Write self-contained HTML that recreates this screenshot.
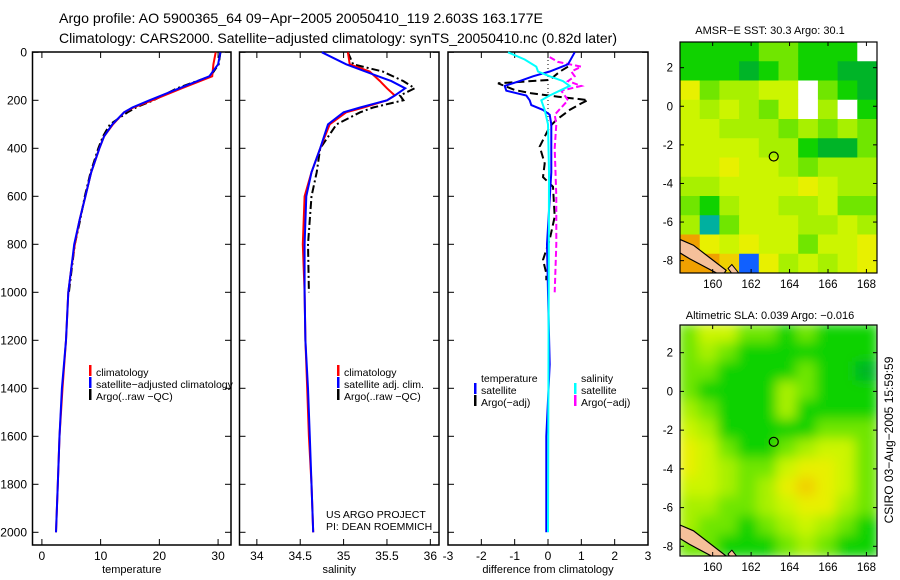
<!DOCTYPE html>
<html><head><meta charset="utf-8"><style>
html,body{margin:0;padding:0;background:#fff;}
svg{display:block;font-family:"Liberation Sans",sans-serif;}
</style></head><body>
<svg id="fig" width="900" height="580" viewBox="0 0 900 580" xmlns="http://www.w3.org/2000/svg">
<text x="59" y="23" font-size="14" textLength="484" lengthAdjust="spacingAndGlyphs">Argo profile: AO 5900365_64 09−Apr−2005 20050410_119 2.603S 163.177E</text>
<text x="59" y="43" font-size="14" textLength="558" lengthAdjust="spacingAndGlyphs">Climatology: CARS2000. Satellite−adjusted climatology: synTS_20050410.nc (0.82d later)</text>
<g id="plots"></g>
<text x="770" y="34" font-size="11" text-anchor="middle">AMSR−E SST: 30.3 Argo: 30.1</text>
<text x="770" y="319" font-size="11" text-anchor="middle">Altimetric SLA: 0.039 Argo: −0.016</text>
<text transform="translate(893,440) rotate(-90)" font-size="12" text-anchor="middle">CSIRO 03−Aug−2005 15:59:59</text>
</svg>
<script>
// ---- profile data ----
const depthsT = [0,50,100,150,200,230,250,300,350,400,500,600,700,800,900,1000,1200,1400,1600,1800,2000];
const tempSat = [30.4,30.0,28.5,23.4,18.3,15.4,14.0,12.0,10.6,9.8,8.4,7.4,6.4,5.5,5.0,4.5,4.1,3.4,3.0,2.7,2.4];
const tempClim = [29.6,29.2,29.0,23.8,18.8,15.6,14.0,12.1,10.6,9.8,8.4,7.4,6.4,5.6,5.0,4.5,4.1,3.5,3.0,2.7,2.4];
const depthsArgo = [0,50,100,150,200,230,250,300,350,400,500,600,700,800,900,1000];
const tempArgo = [30.4,30.1,28.7,23.0,19.0,16.0,14.6,11.6,10.4,9.6,8.3,7.3,6.5,5.6,5.1,4.6];
const depthsS = [0,50,80,120,150,180,200,230,250,300,400,500,600,800,1000,1200,1400,1600,1800,2000];
const salSat = [34.75,35.03,35.25,35.55,35.71,35.59,35.5,35.19,35.0,34.82,34.73,34.63,34.57,34.55,34.55,34.56,34.59,34.61,34.63,34.65];
const salClim = [35.05,35.07,35.3,35.42,35.5,35.59,35.5,35.23,35.03,34.84,34.73,34.63,34.55,34.53,34.55,34.56,34.58,34.6,34.63,34.65];
const depthsSArgo = [0,50,80,120,150,180,200,230,250,300,400,500,600,800,1000];
const salArgo = [35.05,35.11,35.45,35.69,35.82,35.65,35.69,35.34,35.19,34.92,34.73,34.69,34.63,34.59,34.6];
const depthsDTs = [0,50,80,100,120,140,160,180,200,220,240,260,300,500,800,1000,1300,1600,2000];
const diffTSat = [0.8,0.6,0.05,-0.45,-0.85,-1.3,-1.25,-0.65,-0.55,-0.5,-0.15,0.05,0.1,0.1,-0.03,0,0.05,-0.05,-0.05];
const depthsDSs = [0,30,60,80,100,120,140,160,180,200,240,300,500,1000,2000];
const diffSSat = [-1.2,-0.7,-0.35,-0.3,0.05,0.45,0.65,0.35,0.05,-0.2,-0.1,0,0.03,0.02,0];
const depthsDTa = [60,81,115,129,157,171,185,199,213,240,282,310,393,463,520,560,685,780,865,921,950];
const diffTArgo = [0.6,0.35,0.05,-1.5,-1.0,-0.5,0.3,1.2,1.0,0.65,0.25,0.05,-0.25,-0.1,-0.15,0.15,0.2,0.05,-0.15,-0.05,-0.05];
const depthsDSa = [20,40,60,80,100,120,140,160,180,200,230,260,300,400,600,800,1000];
const diffSArgo = [0.05,0.3,1.0,0.7,0.8,0.6,1.0,0.4,0.5,0.6,0.4,0.2,0.25,0.2,0.25,0.25,0.2];
const depthTicks = [0,200,400,600,800,1000,1200,1400,1600,1800,2000];
const tempTicks = [0,10,20,30];
const salTicks = [34,34.5,35,35.5,36];
const diffTicks = [-3,-2,-1,0,1,2,3];
// ---- map data (palette indices, rows top->bottom, 1-degree cells) ----
const sstRows = [
[2,2,2,2,3,3,2,2,2,0],[2,2,2,1,2,3,2,2,1,1],[6,3,4,4,5,5,0,3,2,1],[5,4,5,4,3,5,0,4,0,2],
[5,5,4,4,4,3,4,3,4,3],[5,5,5,5,4,4,2,1,1,3],[5,5,6,5,5,4,3,4,4,4],[4,4,5,5,5,5,6,5,4,4],
[3,2,4,5,5,4,4,5,3,3],[4,9,3,5,5,5,4,4,5,4],[8,6,5,6,5,5,3,5,5,6],[8,8,7,10,6,4,5,4,5,6]];
const slaRows = [
[3,5,5,3,3,2,3,2,2,2],[3,4,3,2,2,2,2,2,2,2],[3,3,2,2,2,2,3,2,2,1],[3,2,2,2,2,4,3,2,2,2],
[4,3,2,2,2,4,2,2,2,2],[5,4,2,2,2,2,2,3,3,3],[6,5,3,2,2,3,4,5,5,3],[6,5,4,3,3,5,6,6,5,3],
[5,5,4,3,4,6,7,6,5,3],[4,4,3,3,4,5,6,6,4,3],[4,3,3,2,3,4,5,4,3,2],[3,3,2,2,2,3,4,3,2,2]];
const palette = ['#ffffff','#00b428','#10d200','#70e600','#a8f000','#ccf500','#e8f000','#f0d000','#f0a000','#00b0a0','#1060ff'];
const lonTicks = [160,162,164,166,168];
const latTicks = [2,0,-2,-4,-6,-8];
const floatLon = [163.177];
const floatLat = [-2.603];

const NS='http://www.w3.org/2000/svg';
const root=document.getElementById('plots');
function mk(tag,attrs,parent){const e=document.createElementNS(NS,tag);for(const k in attrs)e.setAttribute(k,attrs[k]);(parent||root).appendChild(e);return e;}
const Y0=52.3, YS=0.24;
function yD(d){return Y0+d*YS;}
function panel(x0,x1,xmin,xmax,xticks,label,name,tickLbl){
  const sx=v=>x0+(v-xmin)/(xmax-xmin)*(x1-x0);
  const g=mk('g',{});
  
  
  const fr=mk('rect',{x:x0,y:52,width:x1-x0,height:493,fill:'none',stroke:'#000','stroke-width':1.5},g);
  
  
  depthTicks.forEach(d=>{
    const y=yD(d);
    mk('line',{x1:x0,x2:x0+6,y1:y,y2:y,stroke:'#000'},g);
    mk('line',{x1:x1-6,x2:x1,y1:y,y2:y,stroke:'#000'},g);
    if(tickLbl){const t=mk('text',{x:27,y:y+4,'font-size':12,'text-anchor':'end'},g);t.textContent=d;
      
      }
  });
  xticks.forEach((v,i)=>{
    const x=sx(v);
    mk('line',{x1:x,x2:x,y1:52,y2:58,stroke:'#000'},g);
    mk('line',{x1:x,x2:x,y1:539,y2:545,stroke:'#000'},g);
    const t=mk('text',{x:x,y:560,'font-size':12,'text-anchor':'middle'},g);t.textContent=v;
    
    
  });
  const l=mk('text',{x:(x0+x1)/2,y:573,'font-size':11,'text-anchor':'middle'},g);l.textContent=label;
  
  
  return {sx,g};
}
function line(p,depths,vals,color,dash,nm,w){
  const pts=depths.map((d,i)=>p.sx(vals[i]).toFixed(1)+','+yD(d).toFixed(1)).join(' ');
  const e=mk('polyline',{points:pts,fill:'none',stroke:color,'stroke-width':w||2,'stroke-dasharray':dash||'none'},p.g);
  
  
}
function legend(g,x,y,items){
  items.forEach((it,i)=>{
    if(it.c){mk('rect',{x:x-7,y:y+i*12-7,width:2.5,height:11,fill:it.c},g);}
    const t=mk('text',{x:x,y:y+i*12+4,'font-size':10.5},g);t.textContent=it.t;
    
    
  });
}
const DASH='8,3,2,3';
const p1=panel(32.5,231,-1.6,32.2,tempTicks,'temperature','temperature-panel',true);
line(p1,depthsArgo,tempArgo,'#000',DASH,'temp-argo-line');
line(p1,depthsT,tempClim,'#f00',null,'temp-climatology-line');
line(p1,depthsT,tempSat,'#00f',null,'temp-satellite-line');
legend(p1.g,96,372,[{c:'#f00',t:'climatology'},{c:'#00f',t:'satellite−adjusted climatology'},{c:'#000',t:'Argo(..raw −QC)'}]);

const p2=panel(239.5,439,33.8,36.1,salTicks,'salinity','salinity-panel',false);
line(p2,depthsSArgo,salArgo,'#000',DASH,'sal-argo-line');
line(p2,depthsS,salClim,'#f00',null,'sal-climatology-line');
line(p2,depthsS,salSat,'#00f',null,'sal-satellite-line');
legend(p2.g,344,372,[{c:'#f00',t:'climatology'},{c:'#00f',t:'satellite adj. clim.'},{c:'#000',t:'Argo(..raw −QC)'}]);
legend(p2.g,326,514,[{t:'US ARGO PROJECT'},{t:'PI: DEAN ROEMMICH'}]);

const p3=panel(448,648,-3,3,diffTicks,'difference from climatology','difference-panel',false);
mk('line',{x1:p3.sx(0),x2:p3.sx(0),y1:52,y2:130,stroke:'#000','stroke-dasharray':'1,3'},p3.g);
line(p3,depthsDTa,diffTArgo,'#000','8,4','temp-argo-diff-line');
line(p3,depthsDSa,diffSArgo,'#f0f','6,3','sal-argo-diff-line');
line(p3,depthsDTs,diffTSat,'#00f',null,'temp-satellite-diff-line');
line(p3,depthsDSs,diffSSat,'#0ff',null,'sal-satellite-diff-line');
legend(p3.g,481,378,[{t:'temperature'},{c:'#00f',t:'satellite'},{c:'#000',t:'Argo(−adj)'}]);
legend(p3.g,581,378,[{t:'salinity'},{c:'#0ff',t:'satellite'},{c:'#f0f',t:'Argo(−adj)'}]);

// ---- maps ----
function map(rows,y0,y1,latTop,latBot,name,blur){
  const x0=680,x1=877,lonL=158.3,lonR=168.55;
  const sx=v=>x0+(v-lonL)/(lonR-lonL)*(x1-x0);
  const sy=v=>y0+(latTop-v)/(latTop-latBot)*(y1-y0);
  const g=mk('g',{});
  
  
  const cid=name+'-clip';
  const cp=mk('clipPath',{id:cid},g);mk('rect',{x:x0,y:y0,width:x1-x0,height:y1-y0},cp);
  const cg=mk('g',{'clip-path':'url(#'+cid+')'},g);
  const inner=mk('g',blur?{filter:'url(#blurf)'}:{},cg);
  const nr=rows.length,nc=rows[0].length;
  const cw=(x1-x0)/nc,ch=(y1-y0)/nr;
  rows.forEach((r,i)=>r.forEach((v,j)=>{
    const c=mk('rect',{x:x0+j*cw-(blur?2:0),y:y0+i*ch-(blur?2:0),width:cw+(blur?4:0.5),height:ch+(blur?4:0.5),fill:palette[v]},inner);
    
    
  }));
  const land=[[158.3,-6.9],[159.0,-7.2],[160.7,-8.5],[160.5,-8.8],[158.8,-7.9],[158.3,-7.6]].map(p=>sx(p[0])+','+sy(p[1])).join(' ');
  const lp=mk('polygon',{points:land,fill:'#f5c09a',stroke:'#000','stroke-width':1.2},cg);
  
  
  const lp2=mk('polygon',{points:[[161.0,-8.2],[161.4,-8.7],[161.1,-8.8],[160.8,-8.4]].map(p=>sx(p[0])+','+sy(p[1])).join(' '),fill:'#f5c09a',stroke:'#000','stroke-width':1},cg);
  
  
  mk('rect',{x:x0,y:y0,width:x1-x0,height:y1-y0,fill:'none',stroke:'#000','stroke-width':1.2},g);
  lonTicks.forEach(v=>{const x=sx(v);
    mk('line',{x1:x,x2:x,y1:y0,y2:y0+4,stroke:'#000'},g);
    mk('line',{x1:x,x2:x,y1:y1-4,y2:y1,stroke:'#000'},g);
    const t=mk('text',{x:x,y:y1+15,'font-size':11.5,'text-anchor':'middle'},g);t.textContent=v;
    
    });
  latTicks.forEach(v=>{const y=sy(v);
    mk('line',{x1:x0,x2:x0+4,y1:y,y2:y,stroke:'#000'},g);
    mk('line',{x1:x1-4,x2:x1,y1:y,y2:y,stroke:'#000'},g);
    const t=mk('text',{x:673,y:y+4,'font-size':11.5,'text-anchor':'end'},g);t.textContent=v;
    
    });
  floatLon.forEach((lo,i)=>{
    const c=mk('circle',{cx:sx(lo),cy:sy(floatLat[i]),r:4.5,fill:'none',stroke:'#000','stroke-width':1.2},g);
    
    
  });
}
const defs=mk('defs',{});
const f=mk('filter',{id:'blurf',x:'-5%',y:'-5%',width:'110%',height:'110%'},defs);
mk('feGaussianBlur',{stdDeviation:6},f);
map(sstRows,42,273,3.33,-8.64,'sst-map',false);
map(slaRows,325,556,3.43,-8.5,'sla-map',true);
</script>
</body></html>
